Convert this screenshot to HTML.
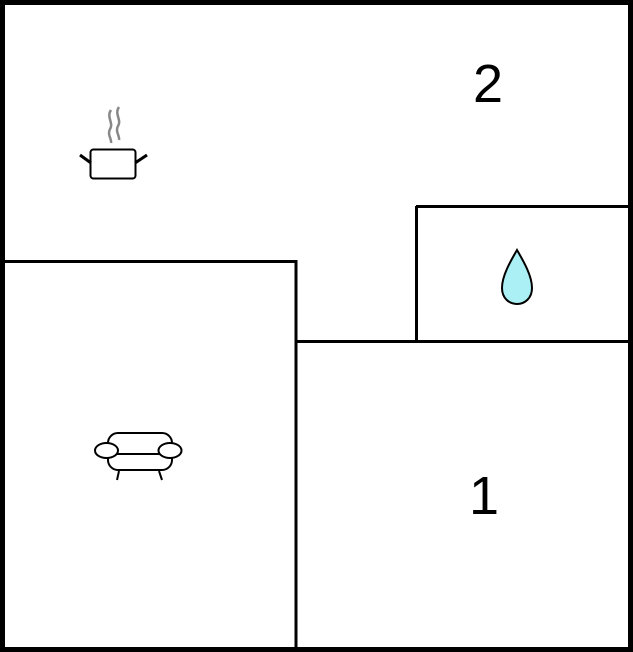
<!DOCTYPE html>
<html><head><style>html,body{margin:0;padding:0;background:#fff}svg{display:block}</style></head>
<body>
<svg width="633" height="652" viewBox="0 0 633 652" xmlns="http://www.w3.org/2000/svg">
<rect x="0" y="0" width="633" height="652" fill="#fff"/>
<g stroke="#000" stroke-width="3" fill="none">
<line x1="0" y1="261.5" x2="296" y2="261.5"/>
<line x1="296" y1="260" x2="296" y2="652"/>
<line x1="296" y1="341.5" x2="633" y2="341.5"/>
<line x1="416.5" y1="206" x2="416.5" y2="341"/>
<line x1="416" y1="206.5" x2="633" y2="206.5"/>
</g>
<rect x="2.5" y="2.5" width="628" height="647" fill="none" stroke="#000" stroke-width="5"/>
<!-- pot -->
<g stroke="#000" fill="none">
<rect x="90.5" y="149.5" width="45" height="29" rx="3" stroke-width="2" fill="#fff"/>
<line x1="80" y1="155" x2="91" y2="163" stroke-width="3"/>
<line x1="135" y1="163" x2="147" y2="155" stroke-width="3"/>
</g>
<g stroke="#888" stroke-width="2.5" fill="none">
<path d="M111 110 C106 117,114 123,110 129 C107 135,112 139,111 143"/>
<path d="M119 107 C114 114,122 120,118 126 C115 132,120 136,119 140"/>
</g>
<!-- sofa -->
<g stroke="#000" stroke-width="2" fill="#fff">
<rect x="108" y="433" width="64" height="37" rx="10"/>
<line x1="108" y1="454" x2="172" y2="454"/>
<line x1="119" y1="471" x2="117" y2="480"/>
<line x1="159" y1="471" x2="162" y2="480"/>
<ellipse cx="106.5" cy="450.5" rx="11.5" ry="7.5"/>
<ellipse cx="170" cy="450.5" rx="11.5" ry="7.5"/>
</g>
<!-- drop -->
<path d="M517 250 C510 262,502 276,502 288 C502 298,509 304,517 304 C525 304,532 298,532 288 C532 276,524 262,517 250 Z" fill="#aaf0f5" stroke="#000" stroke-width="2"/>
<text x="488" y="102" font-family="Liberation Sans, sans-serif" font-size="54" text-anchor="middle">2</text>
<text x="484" y="514" font-family="Liberation Sans, sans-serif" font-size="54" text-anchor="middle">1</text>
</svg>
</body></html>
